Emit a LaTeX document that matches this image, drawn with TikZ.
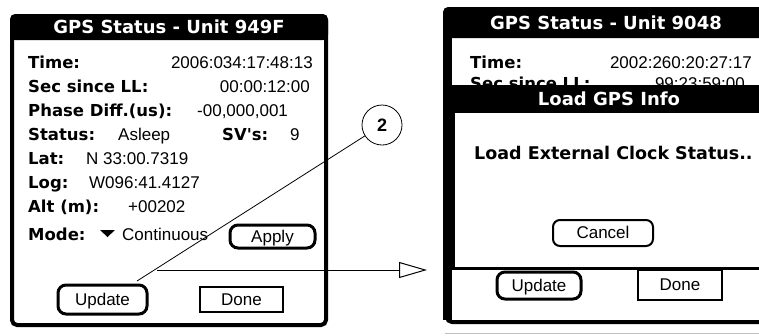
\documentclass[tikz,border=0pt]{standalone}
\usepackage{fontspec}
\setmainfont{Liberation Sans}
\newfontfamily\palmfont{DejaVu Sans}
\usepackage{tikz}
\usetikzlibrary{arrows.meta}

\tikzset{
	lab/.style = {anchor=base west, inner sep=0pt, font=\palmfont\bfseries\fontsize{16.5}{18}\selectfont},
	val/.style = {anchor=base west, inner sep=0pt, font=\fontsize{17}{18}\selectfont},
	ttl/.style = {anchor=base, inner sep=0pt, text=white, font=\palmfont\bfseries\fontsize{18}{20}\selectfont},
	btn/.style = {draw, line width=3pt, rounded corners=8pt, inner sep=0pt, text height=11pt, text depth=0pt, font=\fontsize{17}{18}\selectfont},
	donebox/.style = {draw, line width=1.5pt, inner sep=0pt, text height=11pt, text depth=0pt, font=\fontsize{17}{18}\selectfont}
}

\begin{document}
\begin{tikzpicture}[x=1pt, y=-1pt]
	\useasboundingbox (0,0) rectangle (759,335);
	\clip (0,0) rectangle (759,335);
	% left screen
	\fill[rounded corners=5pt] (10,14) rectangle (328,40);
	\fill (10,30) rectangle (328,40);
	\draw[line width=4pt, rounded corners=5pt] (12,16) rectangle (326,325);
	\node[ttl] (titleL) at (169,33.5) {GPS Status - Unit 949F};
	\node[lab] (timeL) at (28,68) {Time:};
	\node[val, anchor=base east] (timeLv) at (313,68) {2006:034:17:48:13};
	\node[lab] (secL) at (28,92) {Sec since LL:};
	\node[val, anchor=base east] (secLv) at (310,92) {00:00:12:00};
	\node[lab] (phaseL) at (28,116) {Phase Diff.(us):};
	\node[val] (phaseLv) at (197,116) {-00,000,001};
	\node[lab] (statusL) at (28,140) {Status:};
	\node[val] (statusLv) at (118,140) {Asleep};
	\node[lab] (svL) at (222,140) {SV's:};
	\node[val] (svLv) at (290,140) {9};
	\node[lab] (latL) at (28,164) {Lat:};
	\node[val] (latLv) at (86,164) {N 33:00.7319};
	\node[lab] (logL) at (28,188) {Log:};
	\node[val] (logLv) at (89,188) {W096:41.4127};
	\node[lab] (altL) at (28,212) {Alt (m):};
	\node[val] (altLv) at (128,212) {+00202};
	\node[lab] (modeL) at (28,240) {Mode:};
	\fill (100,230) -- (115,230) -- (107.5,237) -- cycle;
	\node[val] (modeLv) at (122,240) {Continuous};
	\node[btn, minimum width=85pt, minimum height=23pt] (applyL) at (272.5,236.5) {Apply};
	\node[btn, minimum width=89pt, minimum height=29pt] (updL) at (102.5,299.5) {Update};
	\node[donebox, minimum width=83pt, minimum height=25pt] (doneL) at (241.5,299.5) {Done};
	% right screen
	\fill[rounded corners=5pt] (443,7) rectangle (800,38);
	\fill (443,25) rectangle (800,38);
	\draw[line width=4pt, rounded corners=5pt] (447,9) rectangle (800,322);
	\fill (443,30) rectangle (452,320);
	\node[ttl] (titleR) at (606,29.5) {GPS Status - Unit 9048};
	\node[lab] (timeR) at (470,68) {Time:};
	\node[val, anchor=base east] (timeRv) at (752,68) {2002:260:20:27:17};
	\node[lab] (secR) at (470,89) {Sec since LL:};
	\node[val, anchor=base east] (secRv) at (745,89) {99:23:59:00};
	% dialog
	\fill (443,85) rectangle (800,113);
	\fill[white] (455,113) rectangle (800,267);
	\fill (443,113) rectangle (455,268);
	\draw[line width=3pt] (452,268) -- (800,268);
	\node[ttl] (titleD) at (609,105.5) {Load GPS Info};
	\node[lab, font=\palmfont\bfseries\fontsize{17.5}{19}\selectfont] (msgD) at (474,159.5) {Load External Clock Status..};
	\node[btn, line width=2pt, rounded corners=7pt, minimum width=100pt, minimum height=26pt] (cancelD) at (603,233) {Cancel};
	\node[btn, minimum width=84pt, minimum height=27pt] (updR) at (539,285.5) {Update};
	\node[donebox, minimum width=84pt, minimum height=30pt] (doneR) at (680,285) {Done};
	\draw[gray!50, line width=1pt] (445,333) -- (759,333);
	% callout and arrow
	\node[draw, circle, line width=0.8pt, fill=white, minimum size=40pt, inner sep=0pt, font=\bfseries\fontsize{18}{20}\selectfont] (num2) at (382,125) {2};
	\coordinate (callend) at (137,281);
	\draw[line width=0.8pt] (num2) -- (callend);
	\coordinate (arrL) at (157,270);
	\coordinate (arrR) at (427,270);
	\draw[line width=1pt, -{Triangle[open, length=28pt, width=16pt]}] (arrL) -- (arrR);
\end{tikzpicture}
\end{document}
